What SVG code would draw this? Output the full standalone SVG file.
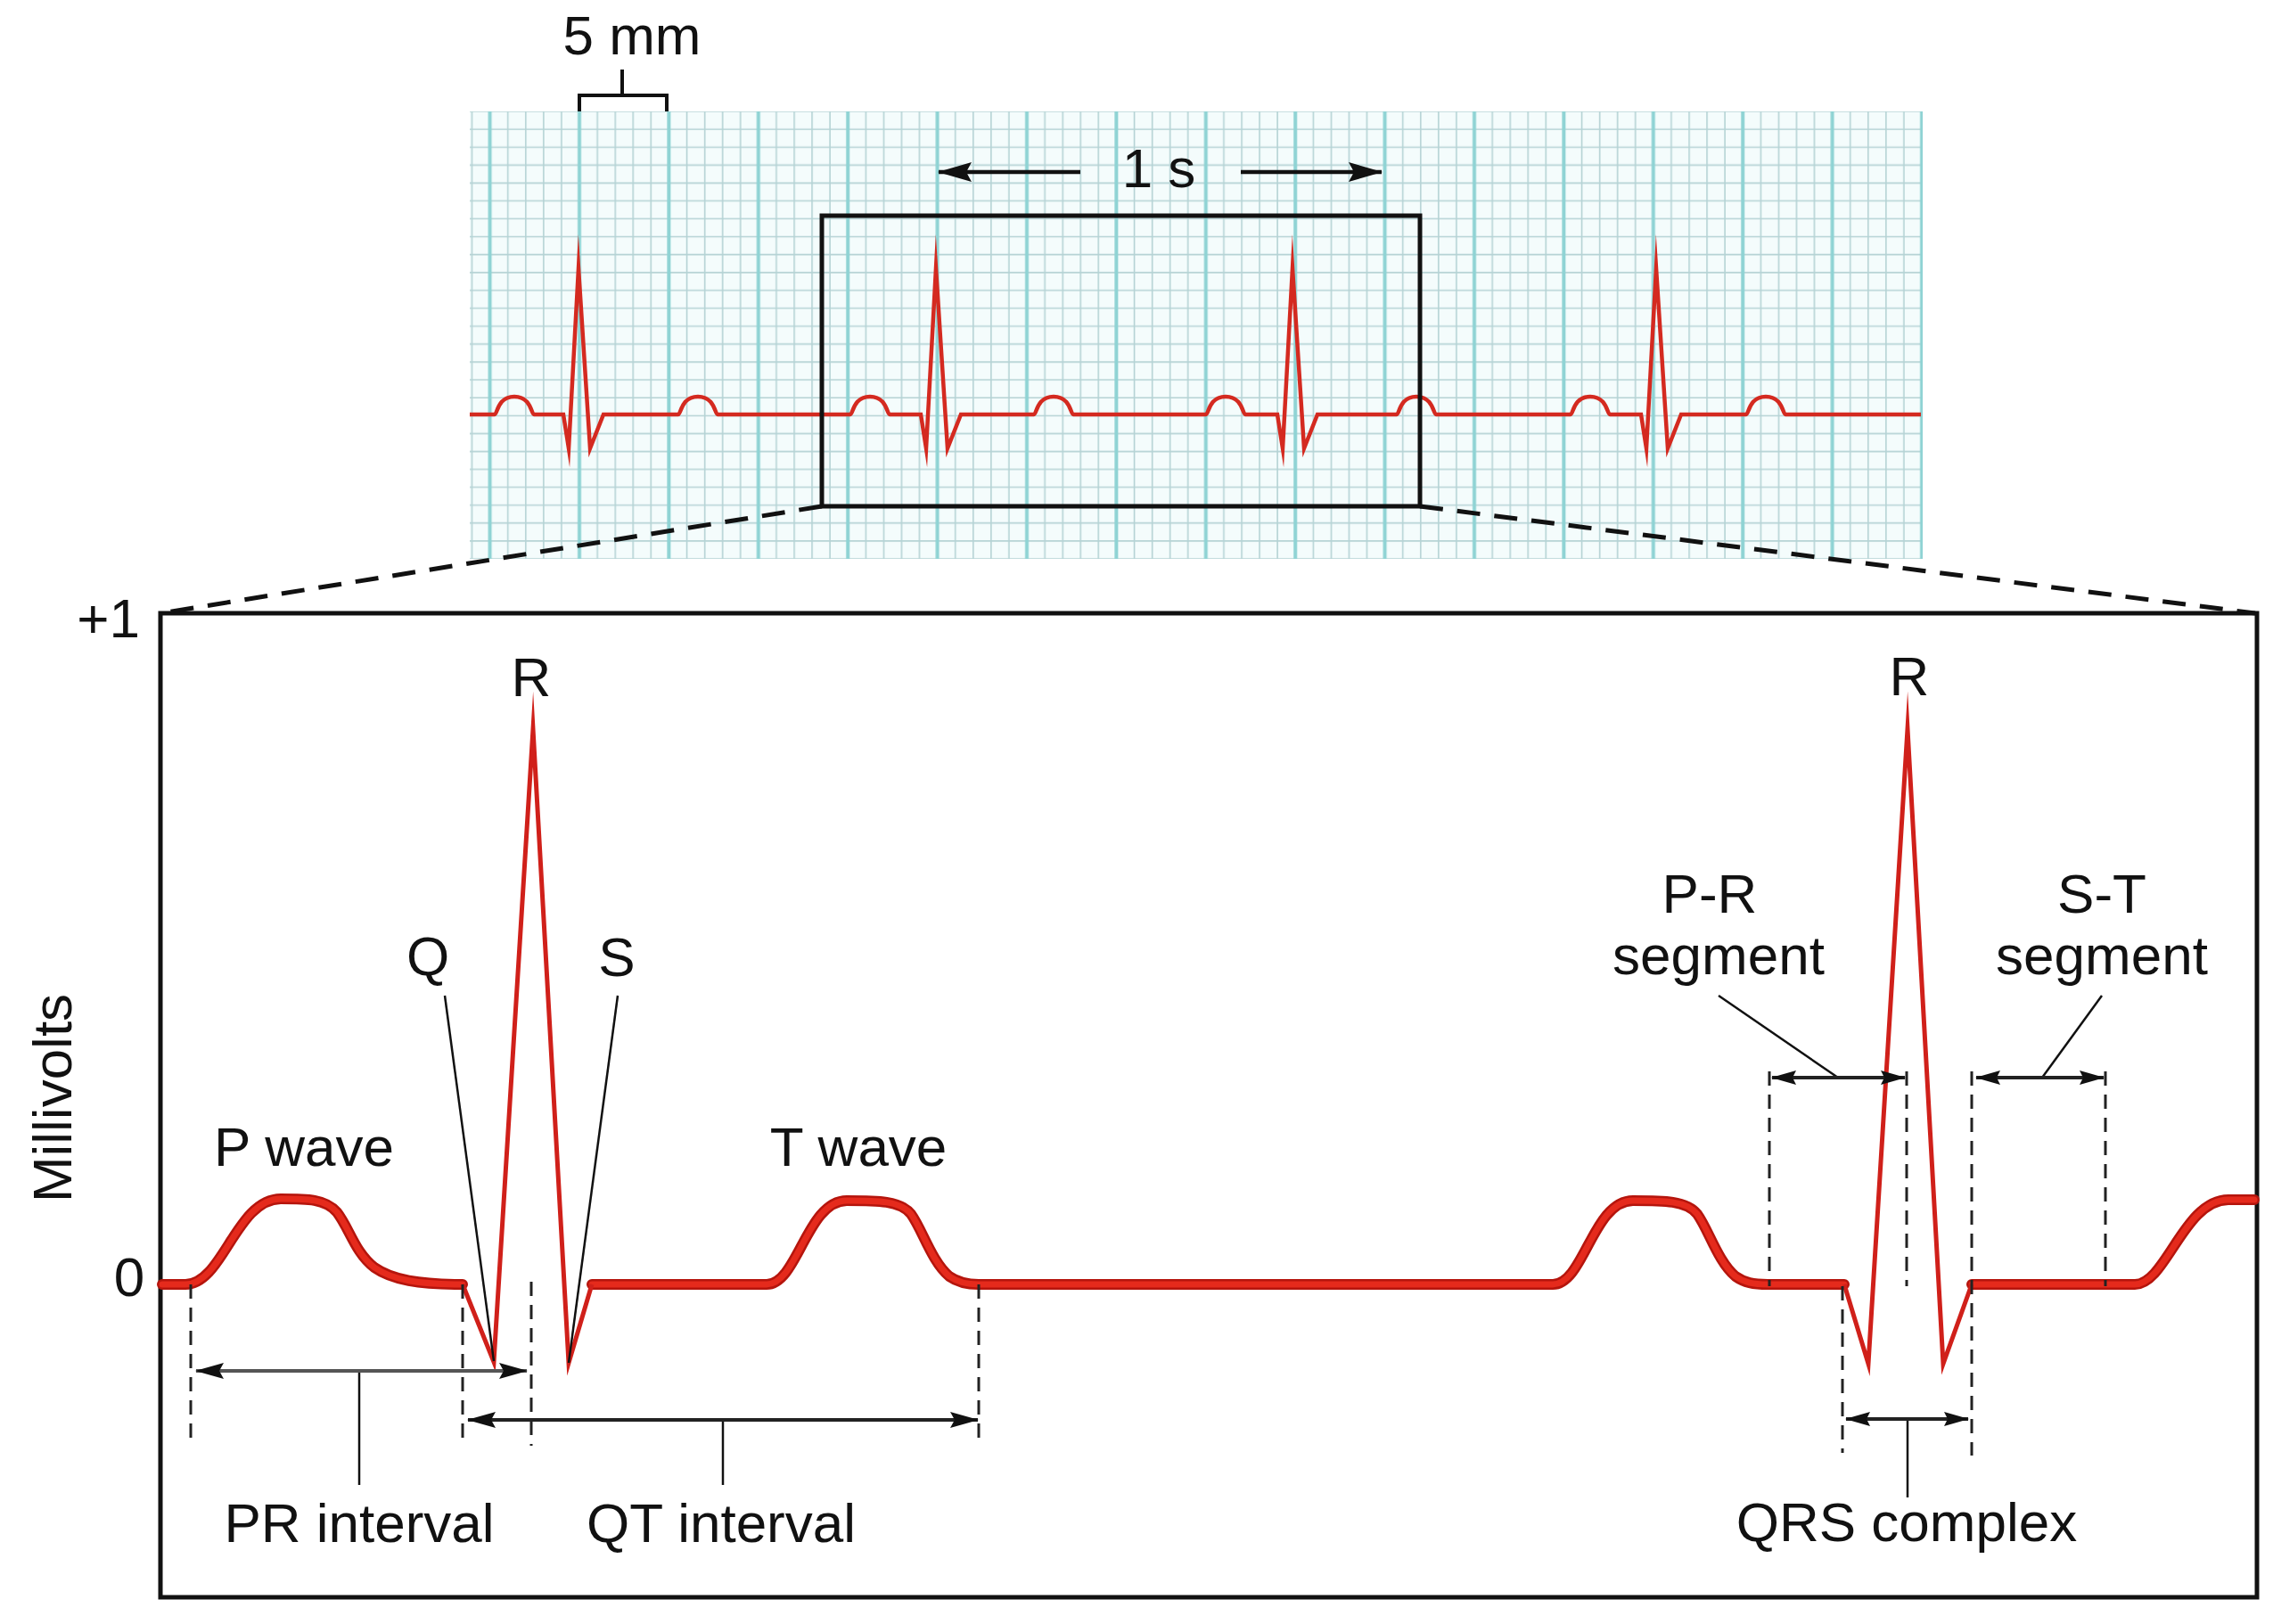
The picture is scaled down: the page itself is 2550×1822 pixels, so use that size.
<svg xmlns="http://www.w3.org/2000/svg" width="2550" height="1822" viewBox="0 0 2550 1822">
  <style>
    .lbl { font-family: "Liberation Sans", Arial, sans-serif; font-size: 62px; fill: #111; }
    .mid { text-anchor: middle; }
    .thick { fill: none; stroke: #b5150d; stroke-width: 12; stroke-linejoin: round; stroke-linecap: round; }
    .thickin { fill: none; stroke: #e52a1c; stroke-width: 7; stroke-linejoin: round; stroke-linecap: round; }
    .thin { fill: none; stroke: #d0201a; stroke-width: 5; stroke-linejoin: miter; stroke-miterlimit: 20; }
    .strip { fill: none; stroke: #d42a20; stroke-width: 4.5; stroke-linejoin: miter; stroke-miterlimit: 20; }
    .box { fill: none; stroke: #111; stroke-width: 5; }
    .dash { fill: none; stroke: #222; stroke-width: 3; stroke-dasharray: 16 10; }
    .zoomdash { fill: none; stroke: #111; stroke-width: 5; stroke-dasharray: 26 16; }
    .lead { fill: none; stroke: #111; stroke-width: 2.5; }
    .arrow { fill: none; stroke: #222; stroke-width: 4; }
  </style>
  <defs>
    <pattern id="grid" patternUnits="userSpaceOnUse" x="600" y="115" width="100.4" height="100.4">
      <rect x="0" y="0" width="100.4" height="100.4" fill="#f4fcfc"/>
      <path d="M0 10H100.4M0 30.08H100.4M0 50.16H100.4M0 70.24H100.4M0 90.32H100.4M9.84 0V100.4M29.92 0V100.4M70.16 0V100.4M90.24 0V100.4" stroke="#b5d3d5" stroke-width="1.6" fill="none"/>
      <path d="M50 0V100.4" stroke="#8fd3d4" stroke-width="4" fill="none"/>
    </pattern>
    <marker id="arr" markerUnits="userSpaceOnUse" viewBox="0 0 32 18" markerWidth="32" markerHeight="18" refX="31" refY="9" orient="auto-start-reverse">
      <path d="M0 0L32 9L0 18L5 9z" fill="#111"/>
    </marker>
    <marker id="arrS" markerUnits="userSpaceOnUse" viewBox="0 0 28 16" markerWidth="28" markerHeight="16" refX="27" refY="8" orient="auto-start-reverse">
      <path d="M0 0L28 8L0 16L4 8z" fill="#111"/>
    </marker>
    <marker id="arrL" markerUnits="userSpaceOnUse" viewBox="0 0 38 22" markerWidth="38" markerHeight="22" refX="37" refY="11" orient="auto-start-reverse">
      <path d="M0 0L38 11L0 22L6 11z" fill="#111"/>
    </marker>
    <path id="tr1" d="M182 1441 L208 1441 C250 1441 265 1345 315 1345 C345 1345 365 1345 378 1360 C392 1378 398 1405 420 1422 C440 1436 470 1441 519 1441"/>
    <path id="tr2" d="M664 1441 L860 1441 C895 1441 905 1347 950 1347 C985 1347 1010 1347 1022 1362 C1035 1380 1045 1415 1065 1432 C1075 1439 1085 1441 1098 1441 L1742 1441 C1777 1441 1787 1347 1832 1347 C1867 1347 1892 1347 1904 1362 C1917 1380 1927 1415 1947 1432 C1957 1439 1967 1441 1983 1441 L2069 1441"/>
    <path id="tr3" d="M2212 1441 L2395 1441 C2430 1441 2450 1346 2500 1346 L2529 1346"/>
  </defs>

  <rect x="0" y="0" width="2550" height="1822" fill="#ffffff"/>

  <!-- ECG paper strip -->
  <g id="ecg-strip">
    <rect x="527" y="125" width="1630" height="502" fill="url(#grid)"/>
    <path class="strip" d="M527 465 L555 465 C558 465 558 445 577 445 C596 445 596 465 599 465 L632 465 L638 503 L649 301 L662 503 L677 465 L761 465 C764 465 764 445 783 445 C802 445 802 465 805 465 L954 465 C957 465 957 445 976 445 C995 445 995 465 998 465 L1033 465 L1039 503 L1050 301 L1063 503 L1078 465 L1160 465 C1163 465 1163 445 1182 445 C1201 445 1201 465 1204 465 L1353 465 C1356 465 1356 445 1375 445 C1394 445 1394 465 1397 465 L1433 465 L1439 503 L1450 301 L1463 503 L1478 465 L1567 465 C1570 465 1570 445 1589 445 C1608 445 1608 465 1611 465 L1762 465 C1765 465 1765 445 1784 445 C1803 445 1803 465 1806 465 L1841 465 L1847 503 L1858 301 L1871 503 L1886 465 L1959 465 C1962 465 1962 445 1981 445 C2000 445 2000 465 2003 465 L2155 465"/>
  </g>

  <!-- 5 mm scale -->
  <g id="scale-5mm">
    <path d="M650 125V107H748V125M698 107V78" fill="none" stroke="#111" stroke-width="4"/>
    <text class="lbl mid" x="709" y="61">5 mm</text>
  </g>

  <!-- 1 s scale -->
  <g id="scale-1s">
    <text class="lbl mid" x="1300" y="210">1 s</text>
  </g>

  <!-- zoom window on strip -->
  <g id="zoom-window">
    <rect class="box" x="922" y="242" width="671" height="326"/>
  </g>

  <!-- detail panel -->
  <g id="detail-panel">
    <rect class="box" x="180" y="688" width="2352" height="1104" fill="#ffffff"/>
    <g id="detail-trace">
      <use href="#tr1" class="thick"/>
      <use href="#tr2" class="thick"/>
      <use href="#tr3" class="thick"/>
      <use href="#tr1" class="thickin"/>
      <use href="#tr2" class="thickin"/>
      <use href="#tr3" class="thickin"/>
      <path class="thin" d="M519 1441 L554 1528 L598 818 L638 1529 L664 1441"/>
      <path class="thin" d="M2069 1441 L2096 1530 L2140 818 L2180 1530 L2212 1441"/>
    </g>
  </g>

  <!-- axis labels -->
  <g id="axis-labels">
    <text class="lbl" x="157" y="715" text-anchor="end">+1</text>
    <text class="lbl mid" x="145" y="1454">0</text>
    <text class="lbl mid" transform="translate(80 1232) rotate(-90)">Millivolts</text>
  </g>

  <!-- wave labels -->
  <g id="label-R1"><text class="lbl mid" x="596" y="781">R</text></g>
  <g id="label-Q"><text class="lbl mid" x="480" y="1094">Q</text></g>
  <g id="label-S"><text class="lbl mid" x="692" y="1095">S</text></g>
  <g id="label-Pwave"><text class="lbl mid" x="341" y="1308">P wave</text></g>
  <g id="label-Twave"><text class="lbl mid" x="963" y="1308">T wave</text></g>
  <g id="label-PR-interval"><text class="lbl mid" x="403" y="1730">PR interval</text></g>
  <g id="label-QT-interval"><text class="lbl mid" x="809" y="1730">QT interval</text></g>
  <g id="label-R2"><text class="lbl mid" x="2142" y="780">R</text></g>
  <g id="label-PR-segment">
    <text class="lbl mid" x="1918" y="1024">P-R</text>
    <text class="lbl mid" x="1928" y="1093">segment</text>
  </g>
  <g id="label-ST-segment">
    <text class="lbl mid" x="2358" y="1024">S-T</text>
    <text class="lbl mid" x="2358" y="1093">segment</text>
  </g>
  <g id="label-QRS"><text class="lbl mid" x="2139" y="1729">QRS complex</text></g>

  <!-- connectors -->
  <g id="connectors">
    <path class="zoomdash" d="M922 568 L180 688"/>
    <path class="zoomdash" d="M1593 568 L2530 688"/>

    <path d="M1212 193H1053" fill="none" stroke="#111" stroke-width="4.5" marker-end="url(#arrL)"/>
    <path d="M1392 193H1550" fill="none" stroke="#111" stroke-width="4.5" marker-end="url(#arrL)"/>

    <path class="dash" d="M214 1441V1622M519 1441V1622M596 1438V1622M1098 1441V1622"/>
    <path class="dash" d="M1985 1202V1443M2139 1202V1443M2212 1202V1633M2362 1202V1443M2067 1443V1630"/>

    <path class="lead" d="M499 1117L554 1527"/>
    <path class="lead" d="M693 1117L638 1529"/>
    <path class="lead" d="M403 1538V1666"/>
    <path class="lead" d="M811 1593V1666"/>
    <path class="lead" d="M2140 1592V1680"/>
    <path class="lead" d="M1928 1117L2062 1209"/>
    <path class="lead" d="M2358 1117L2291 1209"/>

    <path d="M220 1538H591" fill="none" stroke="#555" stroke-width="4" marker-start="url(#arr)" marker-end="url(#arr)"/>
    <path class="arrow" d="M525 1593H1097" marker-start="url(#arr)" marker-end="url(#arr)"/>
    <path class="arrow" d="M1988 1209H2137" stroke-width="3" marker-start="url(#arrS)" marker-end="url(#arrS)"/>
    <path class="arrow" d="M2217 1209H2360" stroke-width="3" marker-start="url(#arrS)" marker-end="url(#arrS)"/>
    <path class="arrow" d="M2071 1592H2208" marker-start="url(#arrS)" marker-end="url(#arrS)"/>
  </g>
</svg>
